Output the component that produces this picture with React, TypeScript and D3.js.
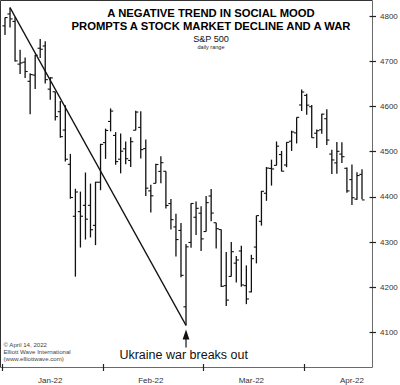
import React from "react";
import * as d3 from "d3";

const dates = ["2022-01-03","2022-01-04","2022-01-05","2022-01-06","2022-01-07","2022-01-10","2022-01-11","2022-01-12","2022-01-13","2022-01-14","2022-01-18","2022-01-19","2022-01-20","2022-01-21","2022-01-24","2022-01-25","2022-01-26","2022-01-27","2022-01-28","2022-01-31","2022-02-01","2022-02-02","2022-02-03","2022-02-04","2022-02-07","2022-02-08","2022-02-09","2022-02-10","2022-02-11","2022-02-14","2022-02-15","2022-02-16","2022-02-17","2022-02-18","2022-02-22","2022-02-23","2022-02-24","2022-02-25","2022-02-28","2022-03-01","2022-03-02","2022-03-03","2022-03-04","2022-03-07","2022-03-08","2022-03-09","2022-03-10","2022-03-11","2022-03-14","2022-03-15","2022-03-16","2022-03-17","2022-03-18","2022-03-21","2022-03-22","2022-03-23","2022-03-24","2022-03-25","2022-03-28","2022-03-29","2022-03-30","2022-03-31","2022-04-01","2022-04-04","2022-04-05","2022-04-06","2022-04-07","2022-04-08","2022-04-11","2022-04-12","2022-04-13","2022-04-14"];

const openValues = [4778.14,4804.51,4787.99,4693.39,4697.66,4655.34,4669.14,4728.59,4733.56,4637.99,4632.24,4588.03,4547.35,4471.38,4356.32,4366.64,4380.58,4380.58,4336.19,4431.79,4519.57,4566.39,4535.41,4482.79,4505.75,4480.02,4547.0,4553.24,4506.27,4412.61,4429.28,4455.75,4456.06,4384.57,4332.74,4324.93,4155.77,4298.38,4354.17,4363.14,4322.56,4401.31,4342.12,4327.01,4202.66,4223.1,4252.55,4279.5,4202.75,4188.82,4288.14,4345.11,4407.34,4462.4,4469.1,4493.1,4469.98,4522.66,4541.09,4602.86,4624.2,4599.02,4540.32,4547.97,4572.45,4494.17,4474.65,4494.15,4462.64,4437.59,4394.3,4449.12];
const highValues = [4796.64,4818.62,4797.7,4725.01,4707.95,4673.02,4714.13,4748.83,4744.13,4665.13,4632.24,4611.55,4602.11,4494.52,4417.35,4411.01,4453.23,4428.74,4432.72,4516.89,4550.49,4595.31,4542.88,4539.66,4521.86,4531.32,4590.03,4588.92,4526.33,4426.22,4472.77,4489.55,4456.06,4394.6,4362.12,4341.51,4294.73,4385.34,4388.84,4378.45,4401.48,4416.78,4342.12,4327.01,4276.94,4299.4,4268.28,4291.01,4247.57,4271.05,4357.86,4412.67,4465.4,4481.75,4522.0,4501.07,4520.58,4546.03,4575.65,4637.3,4627.77,4603.07,4548.7,4583.5,4593.45,4503.94,4521.16,4520.41,4464.35,4471.0,4453.92,4460.46];
const lowValues = [4758.17,4774.27,4699.44,4671.26,4662.74,4582.24,4638.27,4706.71,4650.29,4614.75,4568.7,4530.2,4477.95,4395.34,4222.62,4287.11,4304.8,4309.5,4292.46,4414.02,4483.53,4544.32,4470.39,4451.5,4471.47,4465.4,4547.0,4484.31,4401.41,4364.84,4429.28,4429.68,4373.81,4327.22,4267.11,4221.51,4114.65,4286.83,4315.12,4279.54,4322.56,4345.56,4284.98,4199.85,4157.87,4223.1,4209.8,4200.49,4161.72,4187.9,4251.99,4335.65,4390.57,4424.3,4469.1,4455.81,4465.17,4501.07,4517.69,4589.66,4581.32,4530.41,4507.57,4539.21,4514.17,4450.04,4450.3,4474.6,4408.38,4381.34,4392.7,4394.3];
const closeValues = [4796.56,4793.54,4700.58,4696.05,4677.03,4670.29,4713.07,4726.35,4659.03,4662.85,4577.11,4532.76,4482.73,4397.94,4410.13,4356.45,4349.93,4326.51,4431.85,4515.55,4546.54,4589.38,4477.44,4500.53,4483.87,4521.54,4587.18,4504.08,4418.64,4401.67,4471.07,4475.01,4380.26,4348.87,4304.76,4225.5,4288.7,4384.65,4373.94,4306.26,4386.54,4363.49,4328.87,4201.09,4170.7,4277.88,4259.52,4204.31,4173.11,4262.45,4357.86,4411.67,4463.12,4461.18,4511.61,4456.24,4520.16,4543.06,4575.52,4631.6,4602.45,4530.41,4545.86,4582.64,4525.12,4481.15,4500.21,4488.28,4412.53,4397.45,4446.59,4392.59];

const yTickValues = [4100, 4200, 4300, 4400, 4500, 4600, 4700, 4800];
const monthTickIndex = [-0.6, 19.5, 39.4, 59.5];
const monthLabelIndex = [9, 29, 49, 69];
const monthLabels = ["Jan-22", "Feb-22", "Mar-22", "Apr-22"];

const titleLines = ["A NEGATIVE TREND IN SOCIAL MOOD", "PROMPTS A STOCK MARKET DECLINE AND A WAR"];
const creditLines = ["\u00a9 April 14, 2022", "Elliott Wave International", "(www.elliottwave.com)"];

const trendStartIndex = 1;
const trendEndIndex = 36;

const FONT = "'Liberation Sans', Arial, Helvetica, sans-serif";

export default function App() {
  const W = 400, H = 385;
  const left = 0.5, top = 0.5, right = 372.5, bottom = 367.5;
  const x = d3.scaleLinear().domain([0, 71]).range([5, 362]);
  const y = d3.scaleLinear().domain([4100, 4800]).range([332, 16]);

  const trend = d3.line<[number, number]>()
    .x(d => x(d[0]))
    .y(d => y(d[1]));
  const trendPts: [number, number][] = [
    [trendStartIndex, highValues[trendStartIndex]],
    [trendEndIndex, lowValues[trendEndIndex]],
  ];

  const ax = x(trendEndIndex);
  const tipY = y(lowValues[trendEndIndex]) + 4;

  return (
    <svg width={W} height={H} style={{ position: "fixed", left: 0, top: 0, background: "#fff" }}>
      <rect x={0} y={0} width={W} height={H} fill="#fff" />
      {/* frame */}
      <line x1={left} y1={top} x2={right} y2={top} stroke="#333" strokeWidth={1} />
      <line x1={left} y1={top} x2={left} y2={bottom} stroke="#333" strokeWidth={1} />
      <line x1={right} y1={top} x2={right} y2={bottom} stroke="#6a6a6a" strokeWidth={1} />
      <line x1={left} y1={bottom} x2={right} y2={bottom} stroke="#6a6a6a" strokeWidth={1} />

      {/* y axis ticks */}
      {yTickValues.map(v => (
        <g key={v}>
          <line x1={369.5} x2={376} y1={Math.round(y(v)) + 0.5} y2={Math.round(y(v)) + 0.5} stroke="#222" strokeWidth={1.2} />
          <text x={380} y={y(v)} dy="0.35em" fontFamily={FONT} fontSize={8} fill="#333">{v}</text>
        </g>
      ))}

      {/* x axis ticks */}
      {monthTickIndex.map((t, i) => (
        <line key={i} x1={Math.round(x(t)) + 0.5} x2={Math.round(x(t)) + 0.5} y1={364} y2={371} stroke="#222" strokeWidth={1.2} />
      ))}
      {monthLabelIndex.map((t, i) => (
        <text key={i} x={x(t)} y={383} textAnchor="middle" fontFamily={FONT} fontSize={8} fill="#333">{monthLabels[i]}</text>
      ))}

      {/* title */}
      <text x={211} y={17.3} textAnchor="middle" fontFamily={FONT} fontWeight="bold" fontSize={11.25} fill="#000">{titleLines[0]}</text>
      <text x={211} y={30} textAnchor="middle" fontFamily={FONT} fontWeight="bold" fontSize={11.25} fill="#000">{titleLines[1]}</text>
      <text x={211} y={41.5} textAnchor="middle" fontFamily={FONT} fontSize={9.1} fill="#111">S&amp;P 500</text>
      <text x={211} y={48.5} textAnchor="middle" fontFamily={FONT} fontSize={5.5} fill="#222">daily range</text>

      {/* OHLC bars */}
      {dates.map((d, i) => {
        const cx = x(i);
        return (
          <g key={d} stroke="#111">
            <line x1={cx} x2={cx} y1={y(highValues[i])} y2={y(lowValues[i])} strokeWidth={1.3} />
            <line x1={cx - 2.6} x2={cx} y1={y(openValues[i])} y2={y(openValues[i])} strokeWidth={1.1} />
            <line x1={cx} x2={cx + 2.6} y1={y(closeValues[i])} y2={y(closeValues[i])} strokeWidth={1.1} />
          </g>
        );
      })}

      {/* trend line */}
      <path d={trend(trendPts) || ""} fill="none" stroke="#111" strokeWidth={1.3} />

      {/* arrow */}
      <line x1={ax} x2={ax} y1={tipY + 6} y2={tipY + 18} stroke="#111" strokeWidth={1.2} />
      <path d={`M${ax},${tipY} L${ax - 3.4},${tipY + 10} L${ax + 3.4},${tipY + 10} Z`} fill="#111" />
      <text x={183.7} y={359.3} textAnchor="middle" fontFamily={FONT} fontSize={12.5} fill="#111">Ukraine war breaks out</text>

      {/* credits */}
      {creditLines.map((s, i) => (
        <text key={i} x={3.5} y={346.7 + i * 7.1} fontFamily={FONT} fontSize={6.1} fill="#444">{s}</text>
      ))}
    </svg>
  );
}
